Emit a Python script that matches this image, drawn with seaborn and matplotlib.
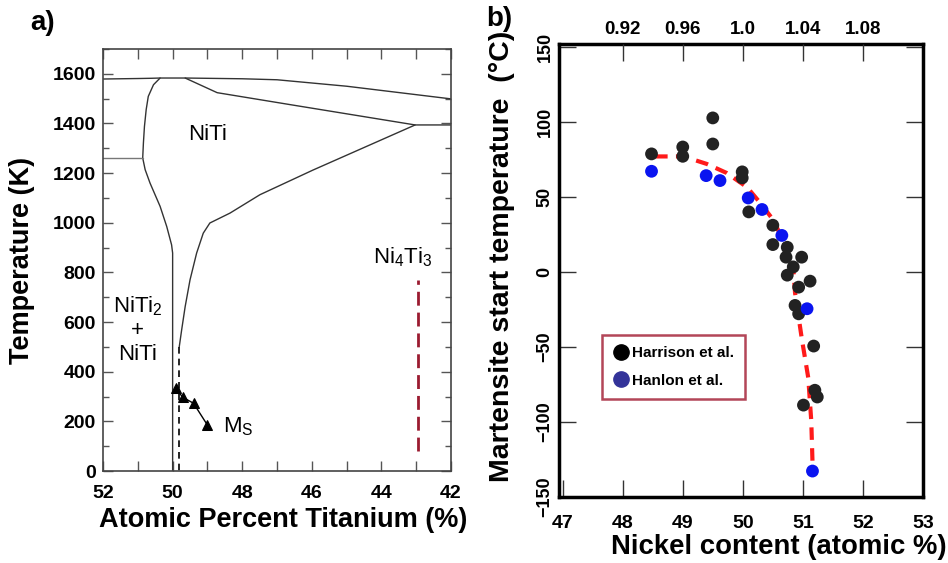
import matplotlib
matplotlib.use('Agg')
import matplotlib.pyplot as plt
from matplotlib.lines import Line2D
from matplotlib.ticker import MultipleLocator
import pandas as pd
import seaborn as sns

sns.set_style("ticks")
plt.rcParams['font.family'] = ['Liberation Sans', 'DejaVu Sans']
plt.rcParams['mathtext.fontset'] = 'custom'
plt.rcParams['mathtext.rm'] = 'Liberation Sans'
plt.rcParams['mathtext.it'] = 'Liberation Sans:italic'
plt.rcParams['mathtext.bf'] = 'Liberation Sans:bold'
plt.rcParams['mathtext.default'] = 'regular'
plt.rcParams['text.color'] = 'black'
plt.rcParams['axes.labelcolor'] = 'black'
plt.rcParams['xtick.labelcolor'] = 'black'
plt.rcParams['ytick.labelcolor'] = 'black'

# ---- panel a: Ni-Ti phase diagram (Ti at.%, K) ----
liquidus_ti = [52.0, 51.0, 50.60, 50.36, 49.64, 48.0, 47.0, 45.0, 42.0]
liquidus_t = [1579, 1581, 1582, 1583, 1583, 1580, 1576, 1550, 1499]
solidus_ti = [49.64, 48.72, 46.63, 43.03, 42.0]
solidus_t = [1583, 1524, 1476, 1394, 1394]
right_bnd_ti = [43.03, 45.97, 47.49, 48.35, 48.93, 49.12, 49.31, 49.5, 49.64, 49.74, 49.81]
right_bnd_t = [1394, 1212, 1113, 1039, 999, 958, 878, 770, 662, 569, 500]
left_bnd_ti = [50.36, 50.55, 50.70, 50.76, 50.81, 50.84, 50.86, 50.79, 50.65,
               50.36, 50.17, 50.03, 50.0, 50.0]
left_bnd_t = [1583, 1556, 1509, 1456, 1388, 1321, 1261, 1214, 1160,
              1066, 985, 911, 878, 0]
eutectoid_ti = [52.0, 50.86]
eutectoid_t = [1259, 1259]
dash_ti = [49.81, 49.81]
dash_t = [500, 0]
ms_ti = [49.91, 49.71, 49.40, 49.00]
ms_t = [333, 297, 273, 185]
ni4ti3_ti = [42.94, 42.94]
ni4ti3_t = [82, 770]

# ---- panel b: Ms vs Ni content ----
harrison_ni = [48.48, 49.0, 49.0, 49.5, 49.5, 49.99, 49.99, 50.10, 50.5, 50.5,
               50.74, 50.72, 50.98, 50.84, 50.74, 51.12, 50.93, 50.87, 50.93,
               51.18, 51.2, 51.24, 51.01]
harrison_ms = [78.7, 83.3, 77.1, 102.7, 85.3, 66.7, 62.7, 40.0, 31.1, 18.2,
               16.4, 9.8, 9.8, 3.3, -2.2, -6.2, -10.2, -22.4, -28.0,
               -49.5, -79.0, -83.5, -88.9]
hanlon_ni = [48.48, 49.39, 49.62, 50.09, 50.32, 50.65, 51.07, 51.16]
hanlon_ms = [67.1, 64.2, 60.9, 49.3, 41.6, 24.3, -24.6, -132.9]
fit_ni = [48.54, 49.01, 49.4, 49.73, 50.07, 50.29, 50.5, 50.68, 50.84,
          50.87, 50.98, 51.09, 51.14, 51.16]
fit_ms = [77, 77, 72, 66, 56.5, 46, 35, 20.5, 2.7, -14, -44, -70.7, -99.5, -126.2]
top_ticks = [48, 49, 50, 51, 52]
top_labels = ["0.92", "0.96", "1.0", "1.04", "1.08"]

fig = plt.figure(figsize=(9.48, 5.63), dpi=100)
ax1 = fig.add_axes([0.1087, 0.1634, 0.367, 0.7496])
ax2 = fig.add_axes([0.5897, 0.1178, 0.3839, 0.804])

lc = '#333333'


def curve(ax, x, y, **kw):
    df = pd.DataFrame({'x': x, 'y': y})
    sns.lineplot(data=df, x='x', y='y', sort=False, estimator=None, ax=ax, **kw)


curve(ax1, liquidus_ti, liquidus_t, color=lc, lw=1)
curve(ax1, solidus_ti, solidus_t, color=lc, lw=1)
curve(ax1, right_bnd_ti, right_bnd_t, color=lc, lw=1)
curve(ax1, left_bnd_ti, left_bnd_t, color=lc, lw=1)
curve(ax1, eutectoid_ti, eutectoid_t, color='#777777', lw=1)
curve(ax1, dash_ti, dash_t, color='black', lw=1.2, linestyle=(0, (4, 3)))
curve(ax1, ms_ti, ms_t, color='black', lw=1, marker='^', markersize=7,
      markeredgecolor='black', markerfacecolor='black')
curve(ax1, ni4ti3_ti, ni4ti3_t, color='#9b1b30', lw=2, linestyle=(0, (5, 2.5)))

ax1.set_xlim(52, 42)
ax1.set_ylim(0, 1700)
ax1.xaxis.set_major_locator(MultipleLocator(2))
ax1.xaxis.set_minor_locator(MultipleLocator(1))
ax1.yaxis.set_minor_locator(MultipleLocator(100))
ax1.set_yticks(range(0, 1601, 200))
ax1.tick_params(which='both', direction='in', width=1, color='#555555',
                top=True, right=True, labelsize=14)
ax1.tick_params(axis='x', which='both', length=7.5, pad=10)
ax1.tick_params(axis='y', which='major', length=7.5, pad=5)
ax1.tick_params(axis='y', which='minor', length=4.5)
for sp in ax1.spines.values():
    sp.set_visible(True)
    sp.set_color('#444444')
    sp.set_linewidth(1.2)
for lab in ax1.get_xticklabels() + ax1.get_yticklabels():
    lab.set_fontweight('bold')
ax1.set_xlabel('Atomic Percent Titanium (%)', fontsize=19.5, fontweight='bold')
ax1.xaxis.set_label_coords(0.517, -0.085)
ax1.set_ylabel('Temperature (K)', fontsize=19.5, fontweight='bold')
ax1.yaxis.set_label_coords(-0.195, 0.5)

ax1.text(49.0, 1355, 'NiTi', fontsize=16, ha='center', va='center')
ax1.text(43.38, 860, r'Ni$_4$Ti$_3$', fontsize=16, ha='center', va='center')
ax1.text(51.0, 570, 'NiTi$_2$\n+\nNiTi', fontsize=16,
         ha='center', va='center', linespacing=1.15)
ax1.text(48.55, 177, r'M$_S$', fontsize=16, ha='left', va='center')

# panel b
fit_df = pd.DataFrame({'ni': fit_ni, 'ms': fit_ms})
sns.lineplot(data=fit_df, x='ni', y='ms', sort=False, estimator=None, ax=ax2,
             color='#ff1a1a', lw=3, linestyle=(0, (3, 2)))
sns.scatterplot(x=harrison_ni, y=harrison_ms, ax=ax2, color='#222222', s=85,
                edgecolor='none', zorder=3)
sns.scatterplot(x=hanlon_ni, y=hanlon_ms, ax=ax2, color='#0a14f0', s=85,
                edgecolor='none', zorder=4)

ax2.set_xlim(46.94, 53.0)
ax2.set_ylim(-150, 152)
ax2.set_xticks([47, 48, 49, 50, 51, 52, 53])
ax2.set_yticks([-150, -100, -50, 0, 50, 100, 150])
ax2.tick_params(axis='both', direction='in', length=12, width=1, color='#333333',
                right=True, labelsize=14)
ax2.tick_params(axis='y', labelrotation=90, pad=4, labelsize=13)
ax2.tick_params(axis='x', pad=13)
for lab in ax2.get_xticklabels():
    lab.set_fontweight('bold')
for lab in ax2.get_yticklabels():
    lab.set_fontweight('bold')
    lab.set_va('center')
for sp in ax2.spines.values():
    sp.set_visible(True)
    sp.set_color('black')
    sp.set_linewidth(2.5)
ax2.set_xlabel('Nickel content (atomic %)', fontsize=19.8, fontweight='bold')
ax2.xaxis.set_label_coords(0.604, -0.082)
ax2.set_ylabel('Martensite start temperature  (°C)', fontsize=20.5, fontweight='bold')
ax2.yaxis.set_label_coords(-0.121, 0.53)

top = ax2.twiny()
top.set_xlim(ax2.get_xlim())
top.set_xticks(top_ticks)
top.set_xticklabels(top_labels, fontsize=13.5, fontweight='bold')
top.tick_params(axis='x', direction='in', length=12, width=1, color='#333333', pad=4)
for sp in top.spines.values():
    sp.set_visible(False)

handles = [
    Line2D([], [], marker='o', color='none', markerfacecolor='black',
           markeredgecolor='black', markersize=11, label='Harrison et al.'),
    Line2D([], [], marker='o', color='none', markerfacecolor='#333399',
           markeredgecolor='#333399', markersize=11, label='Hanlon et al.'),
]
leg = ax2.legend(handles=handles, loc='lower left', bbox_to_anchor=(0.096, 0.2),
                 frameon=True, fancybox=False, handletextpad=0.1, handlelength=1.2,
                 borderpad=0.7, labelspacing=0.9, prop={'weight': 'bold', 'size': 11})
leg.get_frame().set_edgecolor('#a0182e')
leg.get_frame().set_linewidth(1.8)

fig.text(0.045, 0.959, 'a)', fontsize=20, fontweight='bold', ha='center', va='center')
fig.text(0.527, 0.966, 'b)', fontsize=20, fontweight='bold', ha='center', va='center')

fig.savefig('out.png', dpi=100)
